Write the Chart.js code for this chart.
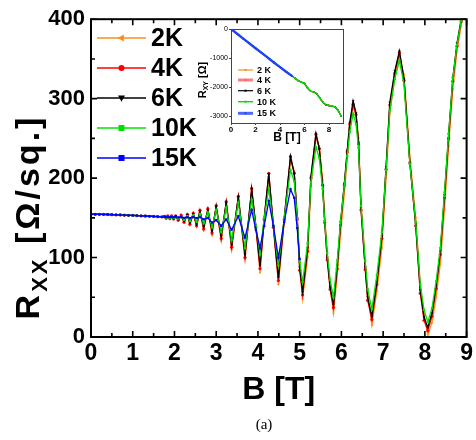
<!DOCTYPE html>
<html><head><meta charset="utf-8">
<script src="https://cdn.jsdelivr.net/npm/chart.js@4.4.0/dist/chart.umd.min.js"></script>
<style>
html,body{margin:0;padding:0;background:#fff;}
#wrap{position:relative;width:476px;height:440px;overflow:hidden;}
#main{position:absolute;left:0;top:0;}
#inset{position:absolute;left:190px;top:20px;}
</style></head><body>
<div id="wrap"><canvas id="main" width="476" height="440"></canvas><canvas id="inset" width="160" height="128"></canvas></div>
<script>
// ---------- main panel data: B [T] and Rxx [Ohm/sq.] ----------
const fieldLow = [0,0.1,0.2,0.3,0.4,0.5,0.6,0.7,0.8,0.9,1.0,1.1,1.2,1.3,1.4,1.5,1.6,1.7];
const fieldOsc = [1.76,1.80,1.84,1.89,1.93,1.98,2.03,2.09,2.16,2.23,2.31,2.37,2.45,2.53,2.61,2.70,2.80,2.90,3.00,3.12,3.24,3.37,3.53,3.69,3.85,3.95,4.05,4.15,4.26,4.37,4.49,4.63,4.78,4.87,4.94,5.00];
const fieldHigh = [5.07,5.19,5.27,5.39,5.47,5.55,5.60,5.66,5.73,5.81,5.90,5.98,6.07,6.14,6.20,6.28,6.35,6.41,6.47,6.57,6.63,6.73,6.85,6.97,7.07,7.16,7.28,7.39,7.50,7.64,7.78,7.89,7.98,8.07,8.17,8.27,8.37,8.47,8.57,8.67,8.77,8.87,9.00];

const rxxLow = [154.5,154.5,154.4,154.3,154.2,154,153.8,153.6,153.4,153.2,153,152.8,152.5,152.3,152,151.8,151.5,151.3];

const rxx2KOsc = [151,149,151.5,148.5,151.5,148,151.5,146.5,152,144,153,141,154.5,139,157,135,159,129,162.5,121,167.5,110,174,99,184,140,81,146,202,140,66,144,223,208,156,94];
const rxx2KHigh = [48,100,190,251,240,197,152,107,62,30,78,130,180,225,262,290,280,250,170,95,55,15,58,112,200,282,327,352,330,228,150,66,28,3,18,50,92,160,240,312,360,392,440];

const rxx4KOsc = [152,149.5,152.5,149,152.5,148.5,152.5,147,153.5,144.5,154.5,142,156,140,159.5,136,161.5,131,165.5,124,170.5,113,177,100,187,138,86,148,206,138,71,148,227,206,148,84];
const rxx4KHigh = [53,108,200,255,237,191,144,97,60,37,86,141,191,233,268,293,280,243,160,85,46,22,66,124,211,292,332,358,323,219,140,55,21,8,26,61,104,175,250,322,366,397,448];

const rxx6KOsc = [151.5,150,152,149.5,152,149,152,148,152.5,146,153.5,144,155,142,158,139,160,134,164,127,169,116,176,104,186,140,90,150,205,140,75,150,227,206,150,88];
const rxx6KHigh = [57,112,202,256,237,191,146,100,63,41,90,144,193,235,270,297,282,245,162,88,50,26,70,127,214,295,335,360,325,220,142,59,25,12,30,65,108,179,255,326,370,400,450];

const rxx10KOsc = [151,150,151.5,149.5,151.5,149.5,151,149,151.5,147.5,152,146,153,145,155,143,157,138,160,132,163,122,169,112,173,140,104,150,187,140,90,150,210,196,150,95];
const rxx10KHigh = [69,118,195,239,225,186,146,106,72,50,96,146,190,228,258,281,268,238,165,96,60,35,78,132,210,285,325,348,318,218,145,66,34,19,36,70,112,182,256,326,368,398,448];

const rxx15KOsc = [151.2,151,151.2,151,151,150.8,151,150.5,151,150,151,149.5,151,149.5,151,148,150,144,147,140,148,135,152,125,160,135,112,140,171,140,100,145,186,175,137,98];

const seriesLabels = ['2K','4K','6K','10K','15K'];
const mainXTicks = [0,1,2,3,4,5,6,7,8,9];
const mainYTicks = [0,100,200,300,400];

// ---------- inset data: B [T] and Rxy [Ohm] ----------
const hallField = [0,0.5,1,1.5,2,2.5,3,3.5,4,4.5,5,5.25,5.5,5.75,6,6.25,6.5,6.75,7,7.25,7.5,7.75,8,8.25,8.5,8.75,9];
const hallRxy = [0,-165,-330,-495,-660,-820,-985,-1150,-1310,-1470,-1620,-1700,-1780,-1830,-1870,-2030,-2140,-2160,-2220,-2380,-2520,-2610,-2630,-2645,-2680,-2800,-3000];
const hallField15K = [0,0.5,1,1.5,2,2.5,3,3.5,4,4.5,5];
const hallRxy15K = [0,-165,-330,-495,-660,-820,-985,-1150,-1310,-1470,-1620];
const insetLabels = ['2 K','4 K','6 K','10 K','15 K'];
const insetXTicks = [0,2,4,6,8];
const insetYTicks = [0,-1000,-2000,-3000];

// ---------- build ----------
const fieldAll = fieldLow.concat(fieldOsc, fieldHigh);
function pts(xs, ys){ return ys.map((y,i)=>({x:xs[i], y:y})); }
const rxx2K = rxxLow.concat(rxx2KOsc, rxx2KHigh);
const rxx4K = rxxLow.concat(rxx4KOsc, rxx4KHigh);
const rxx6K = rxxLow.concat(rxx6KOsc, rxx6KHigh);
const rxx10K = rxxLow.concat(rxx10KOsc, rxx10KHigh);
const rxx15K = rxxLow.concat(rxx15KOsc);

const FONT = '"Liberation Sans", Arial, sans-serif';
const colors = ['#ff8c1a','#ff0000','#000000','#00e000','#0000ff'];
const styles = [['triangle',-90],['circle',0],['triangle',180],['rect',0],['rect',0]];
const orders = [5,4,3,2,1];
const mainData = [rxx2K, rxx4K, rxx6K, rxx10K, rxx15K];

function drawMarker(ctx, style, rot, x, y, r, color){
  ctx.save(); ctx.translate(x,y); ctx.rotate(rot*Math.PI/180); ctx.fillStyle=color; ctx.beginPath();
  if(style==='circle'){ ctx.arc(0,0,r,0,2*Math.PI); }
  else if(style==='rect'){ ctx.rect(-r,-r,2*r,2*r); }
  else { ctx.moveTo(0,-r*1.25); ctx.lineTo(r*1.15,r*0.8); ctx.lineTo(-r*1.15,r*0.8); ctx.closePath(); }
  ctx.fill(); ctx.restore();
}
function drawRotatedTitle(ctx, cx, cy, parts, base){
  ctx.save();
  ctx.translate(cx, cy); ctx.rotate(-Math.PI/2);
  let total=0; parts.forEach(p=>{ctx.font=p[1]; total+=ctx.measureText(p[0]).width;});
  let x=-total/2; ctx.fillStyle='#000'; ctx.textBaseline='alphabetic'; ctx.textAlign='left';
  parts.forEach(p=>{ctx.font=p[1]; ctx.fillText(p[0], x, base+p[2]); x+=ctx.measureText(p[0]).width;});
  ctx.restore();
}

const mainDeco = {
  id:'mainDeco',
  afterDatasetsDraw(chart){
    const {ctx, chartArea:a, scales:{x,y}} = chart;
    ctx.save();
    ctx.strokeStyle='#000'; ctx.lineWidth=2;
    ctx.strokeRect(a.left, a.top, a.right-a.left, a.bottom-a.top);
    ctx.lineWidth=1.6; ctx.beginPath();
    for(let v=x.min; v<=x.max+1e-6; v+=0.5){
      const p=x.getPixelForValue(v); const len=(Math.abs(v-Math.round(v))<1e-6)?6:4;
      ctx.moveTo(p,a.bottom); ctx.lineTo(p,a.bottom-len);
      ctx.moveTo(p,a.top); ctx.lineTo(p,a.top+len);
    }
    for(let v=y.min; v<=y.max+1e-6; v+=50){
      const p=y.getPixelForValue(v); const len=(v%100===0)?6:4;
      ctx.moveTo(a.left,p); ctx.lineTo(a.left+len,p);
      ctx.moveTo(a.right,p); ctx.lineTo(a.right-len,p);
    }
    ctx.stroke();
    // legend
    chart.data.datasets.forEach((ds,i)=>{
      const yy = 38 + i*30;
      ctx.strokeStyle=ds.borderColor; ctx.lineWidth=1.5;
      ctx.beginPath(); ctx.moveTo(97,yy); ctx.lineTo(146,yy); ctx.stroke();
      drawMarker(ctx, ds.pointStyle, ds.pointRotation||0, 121.5, yy, 3, ds.borderColor);
      ctx.fillStyle='#000'; ctx.font='bold 25px '+FONT; ctx.textBaseline='middle'; ctx.textAlign='left';
      ctx.fillText(ds.label, 151, yy+1);
    });
    // y title with subscript
    ctx.save();
    ctx.letterSpacing = '3px';
    drawRotatedTitle(ctx, 27, 217, [['R','bold 34px '+FONT,0],['XX','bold 22px '+FONT,8],[' [\u03A9/sq.]','bold 34px '+FONT,0]], 12);
    ctx.restore();
    // caption
    ctx.fillStyle='#000'; ctx.font='15px "Liberation Serif", "Times New Roman", serif';
    ctx.textAlign='center'; ctx.textBaseline='middle';
    ctx.fillText('(a)', 264, 425);
    ctx.restore();
  }
};

new Chart(document.getElementById('main'), {
  type:'line',
  data:{ datasets: seriesLabels.map((lab,i)=>({
    label:lab,
    data: pts(fieldAll, mainData[i]),
    borderColor:colors[i], backgroundColor:colors[i],
    pointBackgroundColor:colors[i], pointBorderColor:colors[i], pointBorderWidth:0,
    pointStyle:styles[i][0], pointRotation:styles[i][1], pointRadius:1.6,
    borderWidth:1.3, tension:0, order:orders[i], fill:false
  }))},
  options:{
    responsive:false, animation:false, events:[],
    layout:{padding:{top:16,right:5,left:0,bottom:0}},
    plugins:{legend:{display:false}, tooltip:{enabled:false}},
    scales:{
      x:{type:'linear', min:0, max:9,
        afterBuildTicks:(s)=>{ s.ticks = mainXTicks.map(v=>({value:v})); },
        ticks:{color:'#000', padding:3, font:{family:FONT, weight:'bold', size:23}, callback:(v)=>String(v)},
        grid:{display:false, drawTicks:false}, border:{display:false},
        title:{display:true, text:'B [T]', color:'#000', font:{family:FONT, weight:'bold', size:32}, padding:{top:0,bottom:31}},
        afterFit:(s)=>{ s.height=103; }},
      y:{type:'linear', min:0, max:400,
        afterBuildTicks:(s)=>{ s.ticks = mainYTicks.map(v=>({value:v})); },
        ticks:{color:'#000', padding:6, font:{family:FONT, weight:'bold', size:22}, callback:(v)=>String(v)},
        grid:{display:false, drawTicks:false}, border:{display:false},
        afterFit:(s)=>{ s.width=91; }}
    }
  },
  plugins:[mainDeco]
});

// ---------- inset ----------
const insetColors = ['#ff8c1a','#ff6060','#000000','#00e000','#2040ff'];
const insetWidths = [1.2,1.2,1.2,1.4,2.4];
const insetData = [
  pts(hallField, hallRxy), pts(hallField, hallRxy), pts(hallField, hallRxy), pts(hallField, hallRxy),
  pts(hallField15K, hallRxy15K)
];
const insetDeco = {
  id:'insetDeco',
  afterDatasetsDraw(chart){
    const {ctx, chartArea:a} = chart;
    ctx.save();
    ctx.strokeStyle='#444'; ctx.lineWidth=1;
    ctx.strokeRect(a.left+0.5, a.top+0.5, a.right-a.left, a.bottom-a.top);
    const legW=[1.2,3,1.2,1.4,3];
    const legC=['#ff8c1a','rgba(255,0,0,0.5)','#000','#00e000','rgba(0,40,255,0.7)'];
    insetLabels.forEach((lab,i)=>{
      const yy=[50,60,70.7,81.7,93.3][i];
      ctx.strokeStyle=legC[i]; ctx.lineWidth=legW[i];
      ctx.beginPath(); ctx.moveTo(48,yy); ctx.lineTo(63,yy); ctx.stroke();
      ctx.fillStyle=insetColors[i]; ctx.fillRect(54.5,yy-1,2,2);
      ctx.fillStyle='#000'; ctx.font='bold 9px '+FONT; ctx.textBaseline='middle'; ctx.textAlign='left';
      ctx.fillText(lab, 67, yy+0.5);
    });
    drawRotatedTitle(ctx, 12, 60, [['R','bold 11px '+FONT,0],['XY','bold 7px '+FONT,2],[' [\u03A9]','bold 11px '+FONT,0]], 4);
    ctx.restore();
  }
};
new Chart(document.getElementById('inset'), {
  type:'line',
  data:{ datasets: insetLabels.map((lab,i)=>({
    label:lab, data:insetData[i],
    borderColor:insetColors[i], backgroundColor:insetColors[i],
    pointBackgroundColor:insetColors[i], pointBorderWidth:0, pointStyle:'rect', pointRadius:1,
    borderWidth:insetWidths[i], tension:0, order:[5,4,3,2,1][i], fill:false
  }))},
  options:{
    responsive:false, animation:false, events:[],
    layout:{padding:{top:9,right:7,left:0,bottom:0}},
    plugins:{legend:{display:false}, tooltip:{enabled:false}},
    scales:{
      x:{type:'linear', min:0, max:9.14,
        afterBuildTicks:(s)=>{ s.ticks = insetXTicks.map(v=>({value:v})); },
        ticks:{color:'#000', padding:0, font:{family:FONT, weight:'bold', size:8}, callback:(v)=>String(v)},
        grid:{display:true, drawOnChartArea:false, tickLength:2, color:'#444'}, border:{display:false},
        title:{display:true, text:'B [T]', color:'#000', font:{family:FONT, weight:'bold', size:12}, padding:{top:0,bottom:3}},
        afterFit:(s)=>{ s.height=25; }},
      y:{type:'linear', min:-3230, max:0,
        afterBuildTicks:(s)=>{ s.ticks = insetYTicks.map(v=>({value:v})); },
        ticks:{color:'#000', padding:1, font:{family:FONT, size:7}, callback:(v)=>String(v)},
        grid:{display:true, drawOnChartArea:false, tickLength:2, color:'#444'}, border:{display:false},
        afterFit:(s)=>{ s.width=41; }}
    }
  },
  plugins:[insetDeco]
});
</script>
</body></html>
